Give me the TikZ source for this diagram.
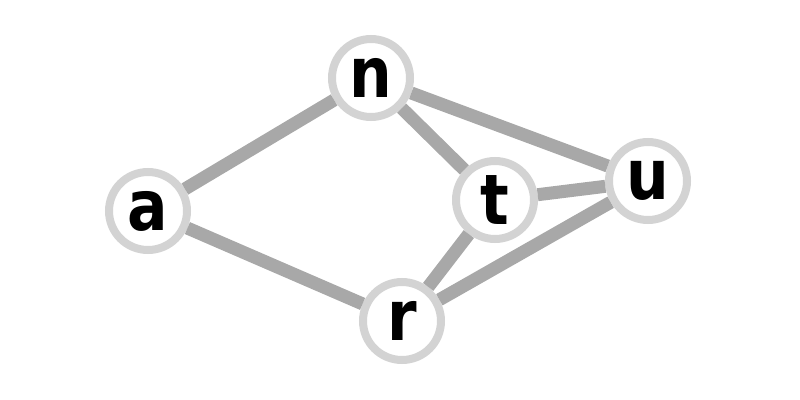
\documentclass[tikz,border=0pt]{standalone}
\usepackage{fontspec}
\usepackage{tikz}
\usetikzlibrary{shapes}
\newfontfamily\letterfont[FakeStretch=0.86]{DejaVu Sans Bold}
\definecolor{ringgray}{HTML}{D3D3D3}
\definecolor{edgegray}{HTML}{A8A8A8}

\begin{document}
\begin{tikzpicture}[
  vertex/.style={draw=ringgray,line width=8bp,circle,fill=white,minimum size=78bp,inner sep=0pt,font=\fontsize{70}{74}\letterfont},
  link/.style={draw=edgegray,line width=13bp}]
\useasboundingbox (0bp,0bp) rectangle (800bp,-400bp);

\node (a) at (148bp,-211bp)[vertex] {a};
\node (n) at (371bp,-78bp)[vertex] {n};
\node (t) at (495bp,-200bp)[vertex] {t};
\node (u) at (648bp,-181bp)[vertex] {u};
\node (r) at (402bp,-321bp)[vertex] {r};
\draw [link] (a) -- (n);
\draw [link] (a) -- (r);
\draw [link] (n) -- (t);
\draw [link] (n) -- (u);
\draw [link] (t) -- (u);
\draw [link] (r) -- (t);
\draw [link] (r) -- (u);
\end{tikzpicture}
\end{document}
